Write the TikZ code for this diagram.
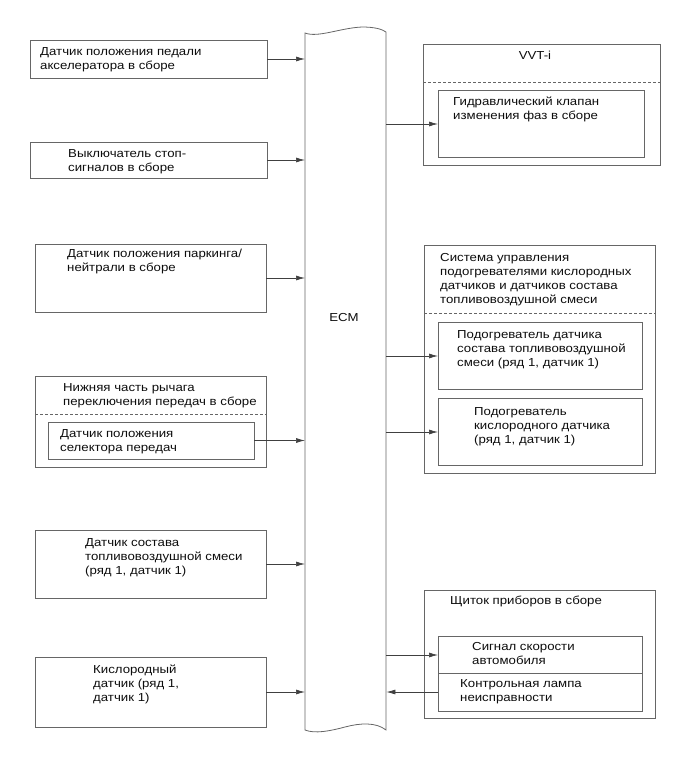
\documentclass[tikz,border=0pt]{standalone}
\usepackage{fontspec}
\setmainfont[FakeStretch=1.14]{Liberation Sans}
\usetikzlibrary{arrows.meta}
\definecolor{linecol}{gray}{0.4}
\definecolor{arrcol}{gray}{0.25}
\definecolor{txtcol}{gray}{0.05}
\newcommand{\fs}{\fontsize{11.6pt}{14pt}\selectfont}
\tikzset{
  boxsty/.style={draw=linecol, line width=0.8pt, inner sep=0pt, outer sep=0pt, anchor=north west},
  txt/.style={anchor=base west, inner sep=0pt, align=left, font=\fs, text=txtcol},
  arr/.style={draw=arrcol, line width=0.7pt, -{Latex[length=9pt,width=5pt]}},
  dsh/.style={draw=linecol, line width=0.7pt, dash pattern=on 3pt off 2pt},
}
\newcommand{\bx}[5]{\node[boxsty, minimum width=#4pt, minimum height=#5pt] (#1) at (#2,#3) {};}
\begin{document}
\begin{tikzpicture}[x=1pt,y=-1pt]
\useasboundingbox (0,0) rectangle (689,761);
% ECM
\draw[linecol, line width=0.8pt] (305,33) .. controls (318,38) and (340,28) .. (362,27) .. controls (374,27) and (382,29) .. (386,32)
  -- (386,730) .. controls (376,722) and (360,723) .. (345,727) .. controls (330,731) and (315,734) .. (305,730) -- cycle;
\node[inner sep=0pt, minimum width=81pt, minimum height=697pt, anchor=north west] (ecm) at (305,33) {};
\node[font=\fs, text=txtcol, inner sep=0pt] (ecmlbl) at (344,318) {ECM};

% Left boxes (text nodes anchored at baseline of last line)
\bx{l1}{30}{40}{237}{38}
\node[txt] (t1) at (40,69) {Датчик положения педали\\акселератора в сборе};
\bx{l2}{30}{142}{237}{36}
\node[txt] (t2) at (68,171) {Выключатель стоп-\\сигналов в сборе};
\bx{l3}{35}{244}{231}{68}
\node[txt] (t3) at (67,271) {Датчик положения паркинга/\\нейтрали в сборе};
\bx{l4}{35}{376}{231}{91}
\node[txt] (t4) at (63,405) {Нижняя часть рычага\\переключения передач в сборе};
\coordinate (d4a) at (35,414);
\coordinate (d4b) at (266,414);
\draw[dsh] (d4a) -- (d4b);
\bx{l4i}{48}{422}{206}{37}
\node[txt] (t4i) at (60,451) {Датчик положения\\селектора передач};
\bx{l5}{35}{530}{231}{68}
\node[txt] (t5) at (85,574) {Датчик состава\\топливовоздушной смеси\\(ряд 1, датчик 1)};
\bx{l6}{35}{657}{231}{70}
\node[txt] (t6) at (93,701) {Кислородный\\датчик (ряд 1,\\датчик 1)};

\draw[arr] (l1.east) -- (l1.east -| ecm.west);
\draw[arr] (l2.east) -- (l2.east -| ecm.west);
\draw[arr] (l3.east) -- (l3.east -| ecm.west);
\draw[arr] (l4i.east) -- (l4i.east -| ecm.west);
\draw[arr] (l5.east) -- (l5.east -| ecm.west);
\draw[arr] (l6.east) -- (l6.east -| ecm.west);

% Right: VVT-i
\bx{r1}{423}{44}{237}{121}
\node[font=\fs, text=txtcol, inner sep=0pt, anchor=base] (tr1) at (535,59) {VVT-i};
\coordinate (d1a) at (423,82);
\coordinate (d1b) at (660,82);
\draw[dsh] (d1a) -- (d1b);
\bx{r1i}{438}{90}{206}{67}
\node[txt] (tr1i) at (453,119) {Гидравлический клапан\\изменения фаз в сборе};
\coordinate (a1) at (386,124);
\draw[arr] (a1) -- (a1 -| r1i.west);

% Right: heater control
\bx{r2}{424}{245}{231}{228}
\node[txt] (tr2) at (440,303) {Система управления\\подогревателями кислородных\\датчиков и датчиков состава\\топливовоздушной смеси};
\coordinate (d2a) at (424,313);
\coordinate (d2b) at (655,313);
\draw[dsh] (d2a) -- (d2b);
\bx{r2a}{438}{322}{204}{67}
\node[txt] (tr2a) at (457,366) {Подогреватель датчика\\состава топливовоздушной\\смеси (ряд 1, датчик 1)};
\bx{r2b}{438}{398}{204}{67}
\node[txt] (tr2b) at (474,443) {Подогреватель\\кислородного датчика\\(ряд 1, датчик 1)};
\coordinate (a2) at (386,356);
\coordinate (a3) at (386,432);
\draw[arr] (a2) -- (a2 -| r2a.west);
\draw[arr] (a3) -- (a3 -| r2b.west);

% Right: combination meter
\bx{r3}{424}{590}{231}{128}
\node[txt] (tr3) at (450,604) {Щиток приборов в сборе};
\bx{r3a}{438}{636}{204}{37}
\node[txt] (tr3a) at (472,664) {Сигнал скорости\\автомобиля};
\bx{r3b}{438}{673}{204}{38}
\node[txt] (tr3b) at (460,701) {Контрольная лампа\\неисправности};
\coordinate (a4) at (386,655);
\draw[arr] (a4) -- (a4 -| r3a.west);
\draw[arr] (r3b.west) -- (r3b.west -| ecm.east);
\end{tikzpicture}
\end{document}
